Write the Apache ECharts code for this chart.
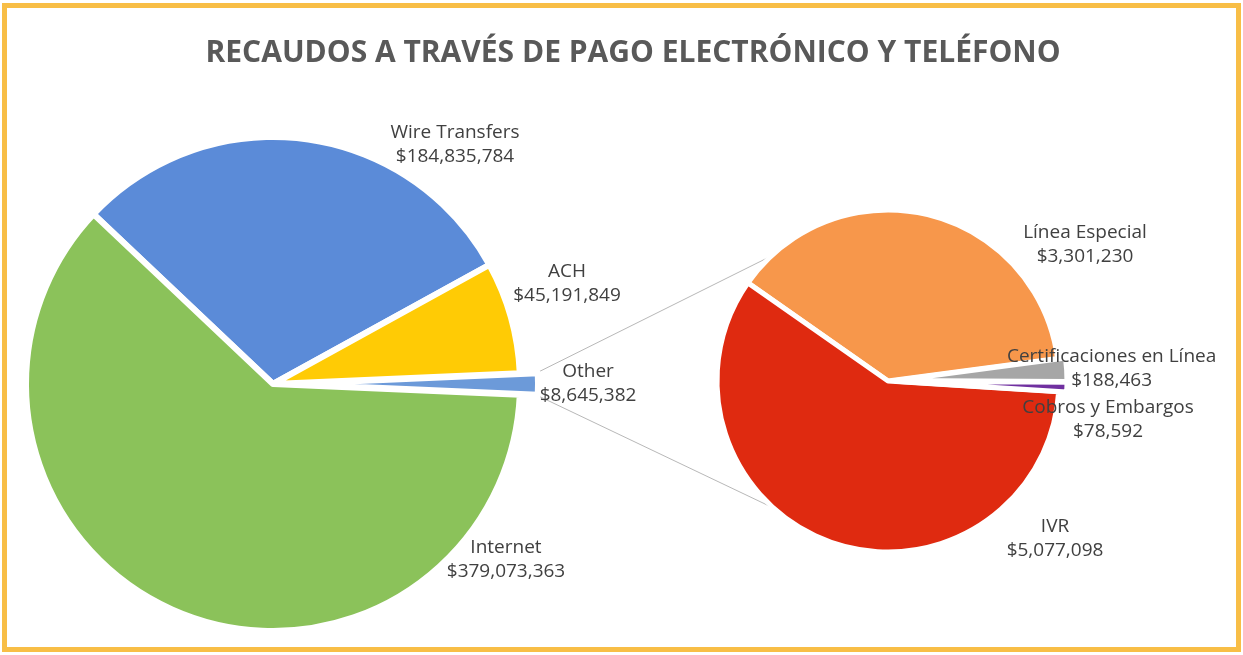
<!DOCTYPE html>
<html>
<head>
<meta charset="UTF-8">
<script type="text/javascript" src="https://cdn.jsdelivr.net/npm/echarts@6/dist/echarts.min.js"></script>
<style>
	body { margin: 0; background: #fff; }
	#wrap { position: relative; width: 1243px; height: 655px; }
	#chart { position: absolute; left: 0; top: 0; width: 1243px; height: 655px; }
	#frame { position: absolute; left: 2px; top: 3px; width: 1239px; height: 649px; box-sizing: border-box;
		border: 5px solid #F8BE46; pointer-events: none; }
</style>
<title></title>
</head>
<body>
<div id="wrap">
	<div id="chart"></div>
	<div id="frame"></div>
</div>
<script type="text/javascript">
	// main pie
	var mainNames = ['Wire Transfers', 'ACH', 'Other', 'Internet'];
	var mainValues = [184835784, 45191849, 8645382, 379073363];
	var mainColors = ['#5B8BD8', '#FFCB05', '#6C9AD9', '#8BC25A'];
	// breakdown of "Other"
	var subNames = ['Línea Especial', 'Certificaciones en Línea', 'Cobros y Embargos', 'IVR'];
	var subValues = [3301230, 188463, 78592, 5077098];
	var subColors = ['#F7974B', '#A6A6A6', '#7030A0', '#DF2A10'];

	// layout
	var L = { cx: 273, cy: 384, r: 247, off: 18 };
	var R = { cx: 888, cy: 381, r: 171 };
	var labelPos = [
		{ 'Wire Transfers': [455, 145], 'ACH': [567, 284], 'Other': [603, 383], 'Internet': [506, 560] },
		{ 'Línea Especial': [1085, 245], 'Certificaciones en Línea': [1128, 335], 'Cobros y Embargos': [1150, 422], 'IVR': [1055, 539] }
	];

	var total = mainValues.reduce(function(a, b) { return a + b; }, 0);
	var otherIdx = mainNames.indexOf('Other');
	var before = 0;
	for (var i = 0; i < otherIdx; i++) before += mainValues[i];
	// put the middle of "Other" at 3 o'clock
	var mainStart = (before + mainValues[otherIdx] / 2) / total * 360;
	var halfOther = mainValues[otherIdx] / 2 / total * 360 * Math.PI / 180;

	function fmt(p) {
		return p.name + '\n$' + p.value.toLocaleString('en-US');
	}

	function pieData(names, values, colors, sel) {
		return names.map(function(n, i) {
			return { name: n, value: values[i], selected: sel.indexOf(n) >= 0, itemStyle: { color: colors[i] } };
		});
	}

	var rr = L.r + L.off;
	var a1 = 133 * Math.PI / 180, a2 = 228 * Math.PI / 180;
	var lines = [
		[L.cx + rr * Math.cos(halfOther), L.cy - rr * Math.sin(halfOther), R.cx + R.r * Math.cos(a1), R.cy - R.r * Math.sin(a1)],
		[L.cx + rr * Math.cos(halfOther), L.cy + rr * Math.sin(halfOther), R.cx + R.r * Math.cos(a2), R.cy - R.r * Math.sin(a2)]
	];

	var myChart = echarts.init(document.getElementById('chart'));
	var labelStyle = {
		show: true,
		formatter: fmt,
		color: '#404040',
		fontFamily: 'Open Sans',
		fontSize: 19,
		lineHeight: 24,
		align: 'center',
		overflow: 'none',
		width: 300
	};
	function place(k, names) {
		return function(p) {
			var q = labelPos[k][names[p.dataIndex]];
			return { x: q[0], y: q[1], align: 'center', verticalAlign: 'middle' };
		};
	}
	var option = {
		backgroundColor: '#fff',
		animation: false,
		title: {
			text: 'RECAUDOS A TRAVÉS DE PAGO ELECTRÓNICO Y TELÉFONO',
			left: 628,
			textAlign: 'center',
			top: 33,
			textStyle: { fontFamily: 'Open Sans', fontWeight: 'bold', fontSize: 30, color: '#595959' }
		},
		graphic: lines.map(function(l) {
			return { type: 'line', z: 1, shape: { x1: l[0], y1: l[1], x2: l[2], y2: l[3] },
				style: { stroke: '#B8B8B8', lineWidth: 1 } };
		}),
		series: [
			{
				type: 'pie',
				center: [L.cx, L.cy],
				radius: L.r,
				startAngle: mainStart,
				selectedMode: 'multiple',
				selectedOffset: L.off,
				data: pieData(mainNames, mainValues, mainColors, ['Other']),
				itemStyle: { borderColor: '#fff', borderWidth: 6 },
				label: labelStyle,
				labelLine: { show: false },
				labelLayout: place(0, mainNames),
				emphasis: { scale: false }
			},
			{
				type: 'pie',
				center: [R.cx, R.cy],
				radius: R.r,
				startAngle: 145,
				selectedMode: 'multiple',
				selectedOffset: 8,
				data: pieData(subNames, subValues, subColors, ['Certificaciones en Línea', 'Cobros y Embargos']),
				itemStyle: { borderColor: '#fff', borderWidth: 5 },
				label: labelStyle,
				labelLine: { show: false },
				labelLayout: place(1, subNames),
				emphasis: { scale: false }
			}
		]
	};
	myChart.setOption(option);
</script>
</body>
</html>
